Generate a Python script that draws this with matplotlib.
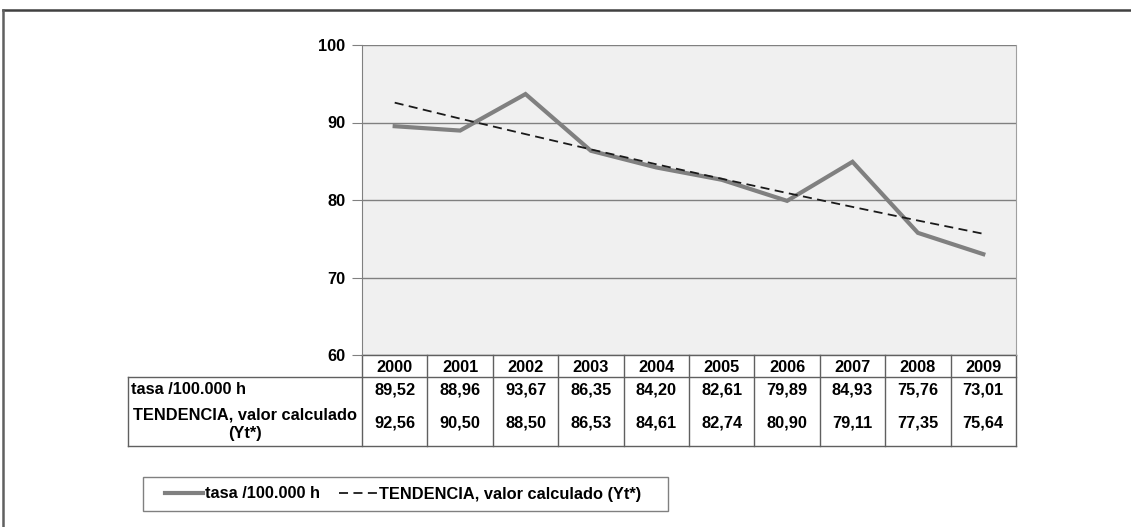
import numpy as np
import matplotlib.pyplot as plt
from matplotlib.lines import Line2D
from matplotlib.patches import Rectangle
from matplotlib.transforms import blended_transform_factory

plt.rcParams['font.family'] = ['Liberation Sans', 'DejaVu Sans']
plt.rcParams['font.weight'] = 'bold'
FS = 11.8

years = ['2000', '2001', '2002', '2003', '2004', '2005', '2006', '2007', '2008', '2009']
tasa = [89.52, 88.96, 93.67, 86.35, 84.20, 82.61, 79.89, 84.93, 75.76, 73.01]
tendencia = [92.56, 90.50, 88.50, 86.53, 84.61, 82.74, 80.90, 79.11, 77.35, 75.64]
label_tasa = 'tasa /100.000 h'
label_tend = 'TENDENCIA, valor calculado (Yt*)'
label_tend_table = 'TENDENCIA, valor calculado\n(Yt*)'
y_ticks = [60, 70, 80, 90, 100]

W, H = 1131, 527


def fx(px):
    return px / W


def fy(py):
    return 1 - py / H


fig = plt.figure(figsize=(W / 100, H / 100), dpi=100)
ax = fig.add_axes([fx(362), fy(355), fx(1016) - fx(362), fy(45) - fy(355)])
ax.set_facecolor('#f0f0f0')

x = np.arange(len(years))
l1, = ax.plot(x, tasa, color='#808080', lw=3.0, solid_joinstyle='miter', label=label_tasa)
l2, = ax.plot(x, tendencia, color='#1a1a1a', lw=1.3, dashes=(5, 3), label=label_tend)

ax.set_xlim(-0.5, len(years) - 0.5)
ax.set_ylim(60, 100)
ax.set_yticks(y_ticks)
ax.set_yticklabels([str(v) for v in y_ticks], fontsize=FS, fontweight='bold')
ax.set_xticks([])
ax.yaxis.grid(True, color='#808080', lw=1)
ax.set_axisbelow(True)
ax.tick_params(axis='y', direction='out', length=7, color='#808080', pad=5)
for s in ['top', 'bottom']:
    ax.spines[s].set_visible(False)
ax.spines['left'].set_color('#808080')
ax.spines['right'].set_color('#a0a0a0')

# data table under the plot
tr = blended_transform_factory(ax.transData, fig.transFigure)
lc = '#606060'
top, head_bot, bot = fy(355), fy(377), fy(446)
edges = np.arange(len(years) + 1) - 0.5
for e in edges:
    ax.add_line(Line2D([e, e], [top, bot], transform=tr, color=lc, lw=1, clip_on=False))
ax.add_line(Line2D([edges[0], edges[-1]], [top, top], transform=tr, color=lc, lw=1, clip_on=False))
fig.add_artist(Line2D([fx(128), fx(1016)], [head_bot, head_bot], color=lc, lw=1))
fig.add_artist(Line2D([fx(128), fx(1016)], [bot, bot], color=lc, lw=1))
fig.add_artist(Line2D([fx(128), fx(128)], [head_bot, bot], color=lc, lw=1))

for i, yr in enumerate(years):
    ax.text(i, fy(367), yr, transform=tr, ha='center', va='center', fontsize=FS)
    ax.text(i, fy(390), f'{tasa[i]:.2f}'.replace('.', ','), transform=tr,
            ha='center', va='center', fontsize=FS)
    ax.text(i, fy(423), f'{tendencia[i]:.2f}'.replace('.', ','), transform=tr,
            ha='center', va='center', fontsize=FS)

fig.text(fx(131), fy(390), label_tasa, ha='left', va='center', fontsize=FS)
fig.text(fx(245), fy(424), label_tend_table, ha='center', va='center',
         multialignment='center', fontsize=FS, linespacing=1.3)

# legend: own frame, frameless legend inside it
fig.add_artist(Rectangle((fx(143), fy(511)), fx(668) - fx(143), fy(477) - fy(511),
                         facecolor='white', edgecolor='#808080', lw=1))
leg = fig.legend(handles=[l1, l2], loc='center left',
                 bbox_to_anchor=(fx(165), fy(494)), ncol=2, fontsize=FS,
                 frameon=False, handlelength=2.3, handletextpad=0.15,
                 columnspacing=1.15, borderpad=0, borderaxespad=0)

# outer frame (top and left edges)
fig.add_artist(Line2D([fx(3), 1], [fy(10), fy(10)], color='#404040', lw=1.8))
fig.add_artist(Line2D([fx(3), fx(3)], [fy(10), 0], color='#606060', lw=1.8))

fig.savefig('out.png', dpi=100)
